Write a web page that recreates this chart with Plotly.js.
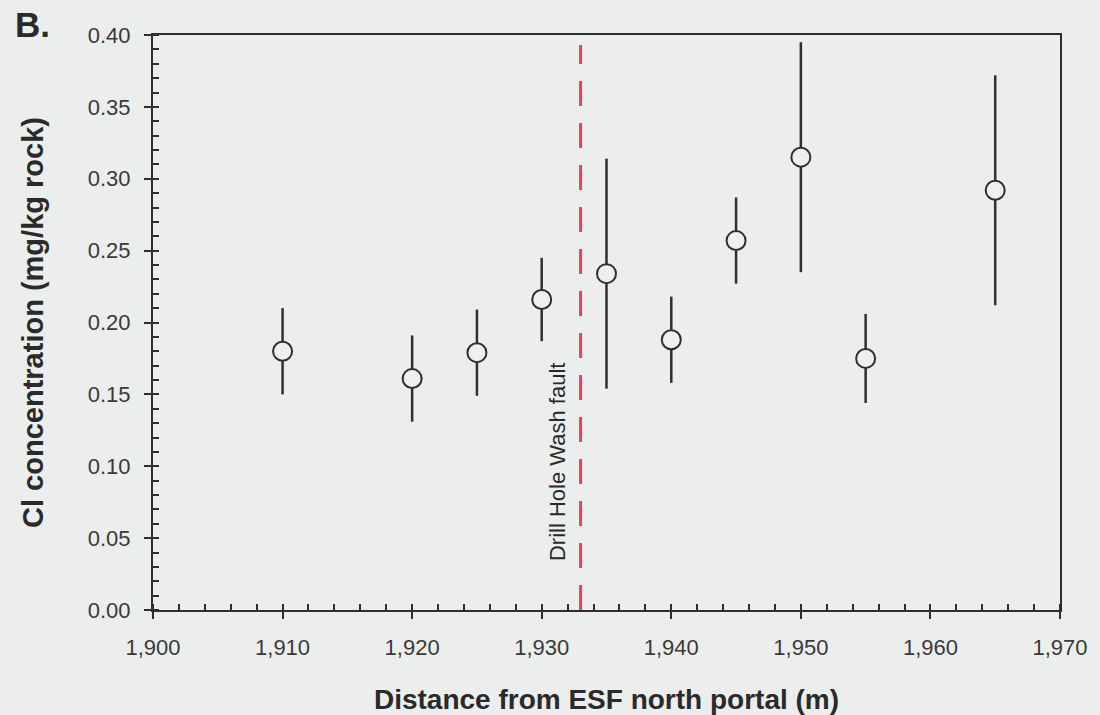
<!DOCTYPE html>
<html>
<head>
<meta charset="utf-8">
<script src="https://cdn.plot.ly/plotly-3.0.1.min.js"></script>
<style>
  html, body { margin: 0; padding: 0; background: #ebeeec; }
  #chart { width: 1100px; height: 715px; }
</style>
</head>
<body>
<div id="chart"></div>
<script>
// Data
const distance = [1910, 1920, 1925, 1930, 1935, 1940, 1945, 1950, 1955, 1965];
const clConc   = [0.180, 0.161, 0.179, 0.216, 0.234, 0.188, 0.257, 0.315, 0.175, 0.292];
const clError  = [0.030, 0.030, 0.030, 0.029, 0.080, 0.030, 0.030, 0.080, 0.031, 0.080];
const faultX = 1933;
const faultLabel = "Drill Hole Wash fault";
const panelLabel = "B.";
const xTitle = "Distance from ESF north portal (m)";
const yTitle = "Cl concentration (mg/kg rock)";

const ink = '#2e3030';
const font = 'Liberation Sans, Arial, sans-serif';

const trace = {
  x: distance,
  y: clConc,
  type: 'scatter',
  mode: 'markers',
  marker: { symbol: 'circle', size: 19, color: '#eef0ee', line: { color: ink, width: 2 } },
  error_y: { type: 'data', array: clError, visible: true, color: ink, thickness: 2.5, width: 0 },
  showlegend: false,
  hoverinfo: 'x+y'
};

const layout = {
  width: 1100, height: 715,
  margin: { l: 153, r: 40, t: 35, b: 105 },
  paper_bgcolor: '#ebeeec',
  plot_bgcolor: '#ebeeec',
  font: { family: font, color: ink, size: 22 },
  xaxis: {
    range: [1900, 1970],
    dtick: 10, tick0: 1900,
    tickformat: ',d',
    ticks: 'outside', ticklen: 7, tickwidth: 2, tickcolor: ink,
    minor: { dtick: 2, ticks: 'inside', ticklen: 6, tickwidth: 2, tickcolor: ink },
    showline: true, linecolor: ink, linewidth: 2, mirror: true,
    showgrid: false, zeroline: false,
    ticklabelstandoff: 10,
    tickfont: { size: 22, color: '#3a3a3a' },
    title: { text: xTitle, font: { size: 28, family: font, color: '#2a2a2a', weight: 'bold' }, standoff: 30 }
  },
  yaxis: {
    range: [0, 0.40],
    dtick: 0.05, tick0: 0,
    tickformat: '.2f',
    ticks: 'outside', ticklen: 7, tickwidth: 2, tickcolor: ink,
    minor: { dtick: 0.01, ticks: 'inside', ticklen: 6, tickwidth: 2, tickcolor: ink },
    showline: true, linecolor: ink, linewidth: 2, mirror: true,
    showgrid: false, zeroline: false,
    ticklabelstandoff: 9,
    tickfont: { size: 22, color: '#3a3a3a' },
    title: { text: yTitle, font: { size: 29, family: font, color: '#2a2a2a', weight: 'bold' }, standoff: 36 }
  },
  shapes: [{
    type: 'line', xref: 'x', yref: 'y',
    x0: faultX, x1: faultX, y0: 0, y1: 0.393,
    line: { color: '#e4425a', width: 3, dash: '25px,17px' }
  }],
  annotations: [
    {
      text: faultLabel, xref: 'x', yref: 'y', x: faultX, y: 0.103,
      xanchor: 'right', yanchor: 'middle', xshift: -8,
      textangle: -90, showarrow: false,
      font: { size: 22, family: font, color: '#2a2a2a' }
    },
    {
      text: '<b>' + panelLabel + '</b>', xref: 'paper', yref: 'paper',
      x: -0.1544, y: 1.019, xanchor: 'left', yanchor: 'middle', showarrow: false,
      font: { size: 35, family: font, color: '#2a2a2a' }
    }
  ]
};

Plotly.newPlot('chart', [trace], layout, { displayModeBar: false, staticPlot: true });
</script>
</body>
</html>
